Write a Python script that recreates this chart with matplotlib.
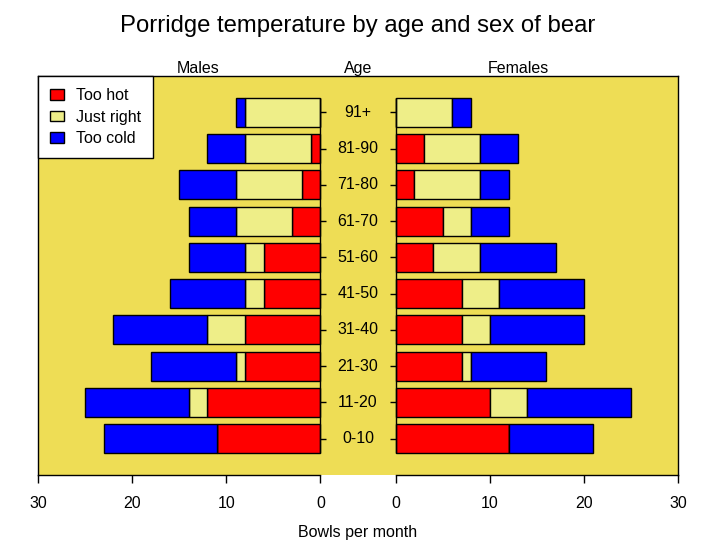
import numpy as np
import matplotlib.pyplot as plt
from matplotlib.patches import Patch

plt.rcParams['font.family'] = ['Liberation Sans', 'DejaVu Sans']

age_groups = ["0-10", "11-20", "21-30", "31-40", "41-50", "51-60",
              "61-70", "71-80", "81-90", "91+"]
categories = ["Too hot", "Just right", "Too cold"]
colors = ["#ff0000", "#eeee88", "#0000ff"]

male_hot = [11, 12, 8, 8, 6, 6, 3, 2, 1, 0]
male_right = [0, 2, 1, 4, 2, 2, 6, 7, 7, 8]
male_cold = [12, 11, 9, 10, 8, 6, 5, 6, 4, 1]

female_hot = [12, 10, 7, 7, 7, 4, 5, 2, 3, 0]
female_right = [0, 4, 1, 3, 4, 5, 3, 7, 6, 6]
female_cold = [9, 11, 8, 10, 9, 8, 4, 3, 4, 2]

axis_ticks = [0, 10, 20, 30]
top_labels = ["Males", "Age", "Females"]

gap = 8
half = gap / 2
xmax = 30
bar_h = 0.8
fs = 11.5

W, H = 716, 552
fig = plt.figure(figsize=(W / 100, H / 100), dpi=100)
ax = fig.add_axes([38 / W, (H - 475) / H, (678 - 38) / W, (475 - 76) / H])
ax.set_facecolor("#eedd55")
ax.set_xlim(-half - xmax, half + xmax)
ax.set_ylim(0, len(age_groups) + 1)

y = np.arange(1, len(age_groups) + 1)

male = np.array([male_hot, male_right, male_cold], dtype=float)
female = np.array([female_hot, female_right, female_cold], dtype=float)

# left side grows to the left from -half, right side to the right from +half
left_start = np.zeros(len(age_groups))
right_start = np.zeros(len(age_groups))
for k in range(3):
    ax.barh(y, -male[k], left=-half - left_start, height=bar_h,
            color=colors[k], edgecolor="black", linewidth=1.0, zorder=3)
    ax.barh(y, female[k], left=half + right_start, height=bar_h,
            color=colors[k], edgecolor="black", linewidth=1.0, zorder=3)
    left_start += male[k]
    right_start += female[k]

# inner edges and small ticks by the age labels
ax.vlines([-half, half], y[0] - bar_h / 2, y[-1] + bar_h / 2, color="black",
          linewidth=1.0, zorder=4)
tick_len = 0.55
ax.hlines(y, -half, -half + tick_len, color="black", linewidth=1.0, zorder=4)
ax.hlines(y, half - tick_len, half, color="black", linewidth=1.0, zorder=4)

for yi, lab in zip(y, age_groups):
    ax.text(0, yi, lab, ha="center", va="center", fontsize=fs)

# bottom axes, one per side
ax.spines["bottom"].set_visible(False)
for s in ["top", "left", "right"]:
    ax.spines[s].set_linewidth(1.0)
ax.plot([-half - xmax, -half], [0, 0], color="black", lw=1.0, clip_on=False, zorder=5)
ax.plot([half, half + xmax], [0, 0], color="black", lw=1.0, clip_on=False, zorder=5)
pos = [-half - t for t in axis_ticks] + [half + t for t in axis_ticks]
labs = [str(t) for t in axis_ticks] * 2
ax.set_xticks(pos)
ax.set_xticklabels(labs, fontsize=fs)
ax.tick_params(axis="x", direction="out", length=5.8, width=1.0, pad=9.5)
ax.set_yticks([])

# top labels
for xt, lab in zip([-17, 0, 17], top_labels):
    ax.annotate(lab, xy=(xt, len(age_groups) + 1), xycoords="data",
                xytext=(0, 2.5), textcoords="offset points",
                ha="center", va="baseline", fontsize=fs)

fig.text(358 / W, 1 - 533 / H, "Bowls per month", ha="center", va="center", fontsize=fs)
fig.text(358 / W, 1 - 26 / H, "Porridge temperature by age and sex of bear",
         ha="center", va="center", fontsize=17.2)

handles = [Patch(facecolor=c, edgecolor="black", linewidth=1.0) for c in colors]
leg = ax.legend(handles, categories, loc="upper left", borderaxespad=0,
                fontsize=fs, fancybox=False, framealpha=1, edgecolor="black",
                handlelength=0.85, handleheight=0.65, handletextpad=0.75,
                labelspacing=0.42, borderpad=0.75)
leg.get_frame().set_linewidth(1.0)
leg.set_zorder(6)

fig.savefig("out.png", dpi=100)
